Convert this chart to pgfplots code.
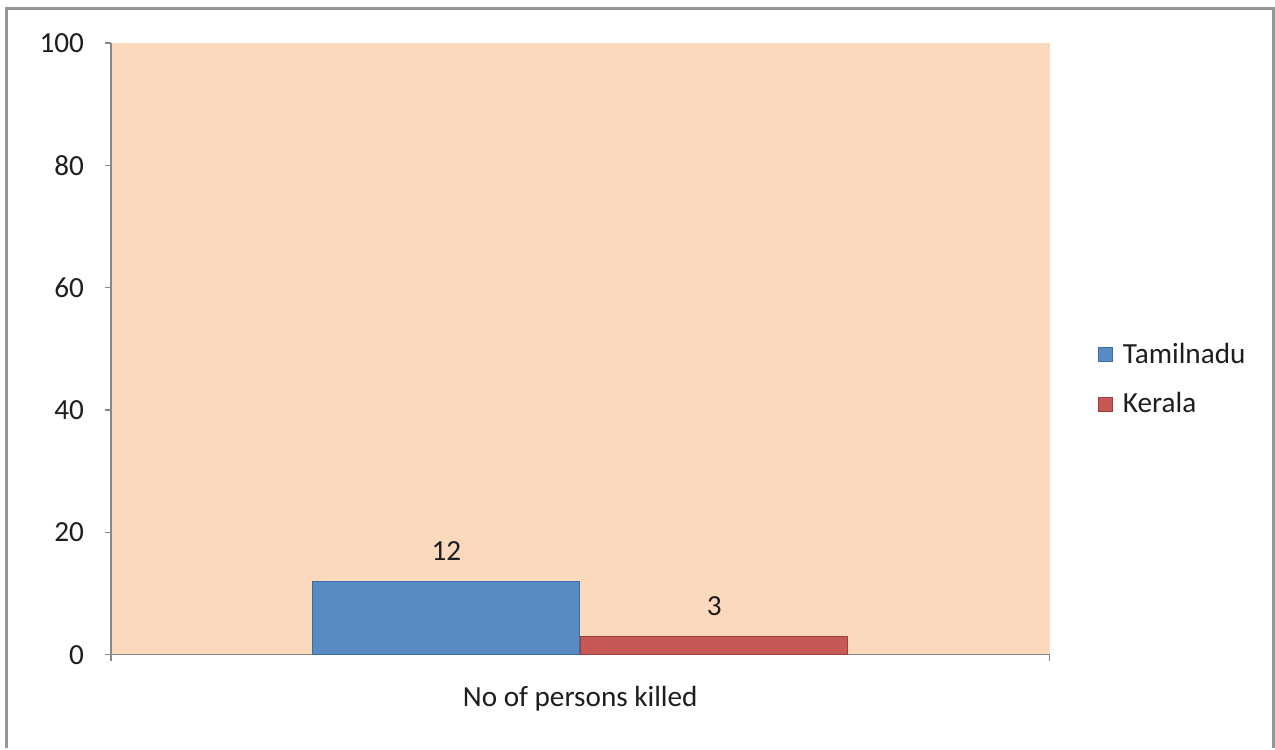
\documentclass[border=0pt]{standalone}
\usepackage{pgfplots}
\pgfplotsset{compat=1.18}
\usepackage{fontspec}
\setmainfont{Carlito}
\definecolor{bgpeach}{RGB}{251,217,188}
\definecolor{tnblue}{RGB}{88,138,196}
\definecolor{tnedge}{RGB}{62,110,166}
\definecolor{krred}{RGB}{198,89,86}
\definecolor{kredge}{RGB}{160,62,60}
\definecolor{axgray}{RGB}{136,136,136}
\definecolor{framegray}{RGB}{150,150,150}
\definecolor{txt}{RGB}{30,30,30}
\begin{document}
\begin{tikzpicture}[x=1pt,y=1pt]
\path (0,0) rectangle (637.5,372);
\draw[framegray,line width=1.5pt] (3.5,-2) -- (3.5,367.5) -- (637,367.5) -- (637,-2);
\begin{axis}[
  at={(55.5pt,44.5pt)}, anchor=south west,
  scale only axis, width=469.5pt, height=306pt,
  xmin=0, xmax=939, ymin=0, ymax=100,
  axis lines*=left,
  axis line style={axgray, line width=0.6pt},
  axis background/.style={fill=bgpeach},
  ytick={0,20,40,60,80,100},
  xtick={0,939}, xticklabels={},
  extra x ticks={469.5},
  extra x tick labels={No of persons killed},
  extra x tick style={major tick length=0pt, tick label style={yshift=-12pt}},
  tick align=outside,
  major tick length=3pt,
  tick style={axgray, line width=0.6pt},
  ticklabel style={font=\fontsize{14.6}{16}\selectfont, text=txt},
  yticklabel style={xshift=-7pt},
  /pgf/number format/assume math mode=true,
  ybar, bar width=267,
  nodes near coords,
  nodes near coords style={font=\fontsize{14.6}{16}\selectfont, text=txt, yshift=7pt},
  legend style={at={(1.051,0.45)}, anchor=west, draw=none, fill=none,
    font=\fontsize{14.6}{16}\selectfont, text=txt,
    row sep=9pt, inner sep=0pt,
    /tikz/every even column/.append style={column sep=3pt}},
  legend image code/.code={\draw[#1] (0pt,-3.5pt) rectangle (7pt,3.5pt);},
  legend cell align=left,
]
\addplot[fill=tnblue, draw=tnedge, line width=0.5pt, bar shift=-134] coordinates {(469.5,12)};
\addplot[fill=krred, draw=kredge, line width=0.5pt, bar shift=134] coordinates {(469.5,3)};
\legend{\hspace{3pt}Tamilnadu, \hspace{3pt}Kerala}
\end{axis}
\end{tikzpicture}
\end{document}
